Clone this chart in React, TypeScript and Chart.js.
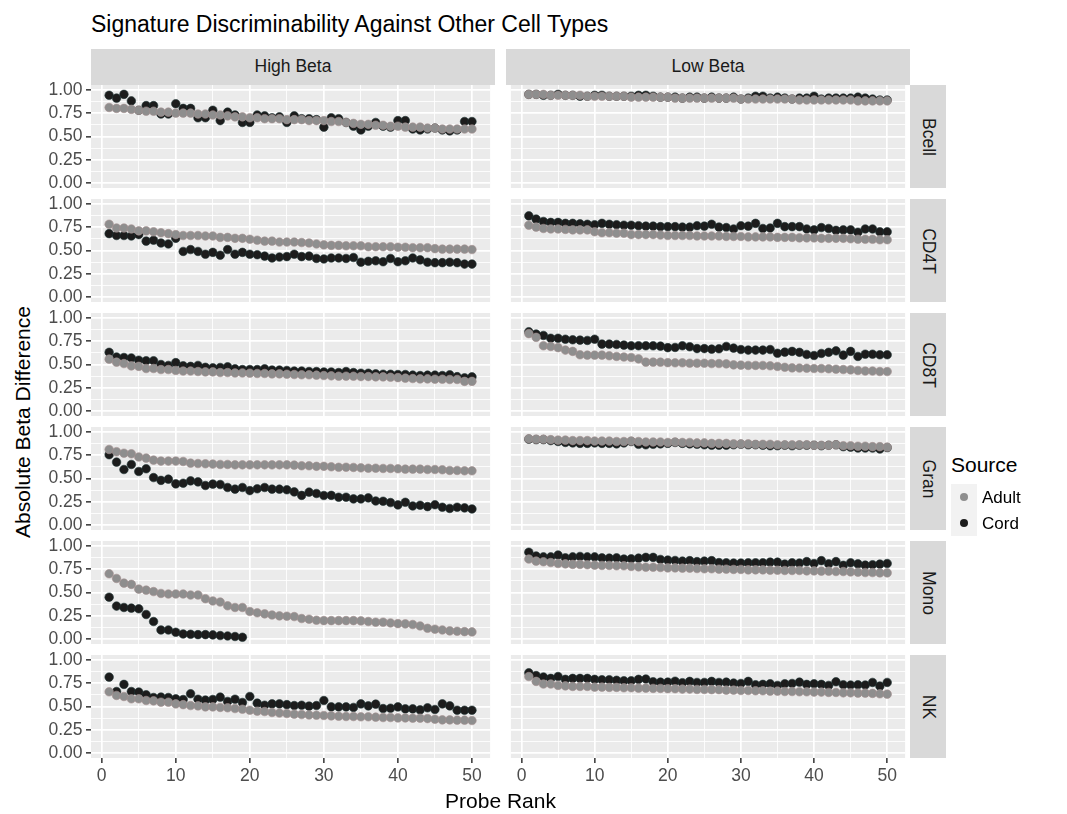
import React, { useEffect, useRef } from "react";
import { Chart, registerables } from "chart.js";

Chart.register(...registerables);

// ---------------- DATA ----------------
const ranks = [1, 2, 3, 4, 5, 6, 7, 8, 9, 10, 11, 12, 13, 14, 15, 16, 17, 18, 19, 20, 21, 22, 23, 24, 25, 26, 27, 28, 29, 30, 31, 32, 33, 34, 35, 36, 37, 38, 39, 40, 41, 42, 43, 44, 45, 46, 47, 48, 49, 50];
const cellTypes = ["Bcell", "CD4T", "CD8T", "Gran", "Mono", "NK"];
const betaGroups = ["High Beta", "Low Beta"];
const sources = ["Adult", "Cord"];
const xTickValues = [0, 5, 10, 15, 20, 25, 30, 35, 40, 45, 50];
const xMajorTicks = [0, 10, 20, 30, 40, 50];
const yTickValues = [0, 0.125, 0.25, 0.375, 0.5, 0.625, 0.75, 0.875, 1];
const yMajorTicks = [0, 0.25, 0.5, 0.75, 1];

const bcellHighAdult = [0.81, 0.80, 0.80, 0.79, 0.78, 0.77, 0.77, 0.76, 0.76, 0.75, 0.75, 0.75, 0.74, 0.74, 0.73, 0.73, 0.72, 0.71, 0.71, 0.70, 0.70, 0.69, 0.69, 0.69, 0.68, 0.68, 0.68, 0.67, 0.67, 0.67, 0.66, 0.66, 0.65, 0.64, 0.63, 0.63, 0.62, 0.62, 0.61, 0.61, 0.60, 0.60, 0.60, 0.59, 0.59, 0.58, 0.58, 0.58, 0.58, 0.58];
const bcellHighCord = [0.94, 0.91, 0.95, 0.88, 0.78, 0.83, 0.83, 0.74, 0.74, 0.85, 0.80, 0.80, 0.70, 0.70, 0.78, 0.67, 0.76, 0.73, 0.65, 0.65, 0.73, 0.72, 0.70, 0.71, 0.65, 0.72, 0.69, 0.69, 0.68, 0.60, 0.70, 0.69, 0.65, 0.61, 0.57, 0.61, 0.65, 0.61, 0.60, 0.67, 0.67, 0.58, 0.57, 0.58, 0.59, 0.57, 0.56, 0.57, 0.66, 0.66];
const bcellLowAdult = [0.95, 0.95, 0.95, 0.94, 0.94, 0.94, 0.94, 0.94, 0.93, 0.93, 0.93, 0.93, 0.93, 0.93, 0.92, 0.92, 0.92, 0.92, 0.92, 0.92, 0.91, 0.91, 0.91, 0.91, 0.91, 0.91, 0.91, 0.91, 0.91, 0.90, 0.90, 0.90, 0.90, 0.90, 0.90, 0.90, 0.90, 0.89, 0.89, 0.89, 0.89, 0.89, 0.89, 0.89, 0.89, 0.88, 0.88, 0.88, 0.88, 0.88];
const bcellLowCord = [0.95, 0.95, 0.94, 0.94, 0.95, 0.94, 0.94, 0.93, 0.93, 0.94, 0.94, 0.93, 0.93, 0.93, 0.93, 0.94, 0.94, 0.93, 0.92, 0.92, 0.92, 0.91, 0.92, 0.92, 0.91, 0.92, 0.91, 0.91, 0.92, 0.90, 0.91, 0.93, 0.93, 0.91, 0.92, 0.91, 0.90, 0.91, 0.91, 0.93, 0.90, 0.91, 0.91, 0.91, 0.91, 0.92, 0.91, 0.90, 0.89, 0.89];

const cd4tHighAdult = [0.78, 0.74, 0.74, 0.73, 0.71, 0.71, 0.70, 0.69, 0.68, 0.67, 0.66, 0.66, 0.66, 0.655, 0.655, 0.64, 0.64, 0.63, 0.63, 0.62, 0.61, 0.60, 0.60, 0.59, 0.59, 0.59, 0.585, 0.58, 0.57, 0.56, 0.555, 0.555, 0.55, 0.55, 0.55, 0.54, 0.54, 0.54, 0.54, 0.535, 0.535, 0.53, 0.53, 0.53, 0.52, 0.515, 0.515, 0.515, 0.515, 0.51];
const cd4tHighCord = [0.68, 0.66, 0.66, 0.655, 0.67, 0.60, 0.61, 0.58, 0.57, 0.63, 0.49, 0.51, 0.49, 0.46, 0.48, 0.45, 0.51, 0.46, 0.48, 0.46, 0.455, 0.44, 0.42, 0.43, 0.435, 0.46, 0.435, 0.44, 0.415, 0.41, 0.42, 0.42, 0.415, 0.425, 0.375, 0.385, 0.39, 0.38, 0.415, 0.38, 0.39, 0.42, 0.40, 0.375, 0.37, 0.37, 0.375, 0.37, 0.355, 0.355];
const cd4tLowAdult = [0.77, 0.75, 0.735, 0.73, 0.73, 0.725, 0.72, 0.72, 0.72, 0.70, 0.69, 0.69, 0.685, 0.685, 0.67, 0.67, 0.67, 0.67, 0.665, 0.66, 0.66, 0.66, 0.66, 0.655, 0.655, 0.655, 0.655, 0.65, 0.65, 0.65, 0.645, 0.645, 0.645, 0.645, 0.64, 0.64, 0.64, 0.635, 0.635, 0.635, 0.63, 0.63, 0.63, 0.63, 0.625, 0.62, 0.62, 0.62, 0.615, 0.615];
const cd4tLowCord = [0.87, 0.835, 0.81, 0.80, 0.80, 0.79, 0.79, 0.785, 0.78, 0.775, 0.79, 0.78, 0.775, 0.77, 0.77, 0.765, 0.76, 0.76, 0.755, 0.755, 0.755, 0.75, 0.75, 0.765, 0.76, 0.78, 0.75, 0.745, 0.73, 0.765, 0.76, 0.79, 0.735, 0.74, 0.79, 0.755, 0.755, 0.755, 0.73, 0.72, 0.745, 0.735, 0.715, 0.72, 0.72, 0.695, 0.73, 0.73, 0.70, 0.70];

const cd8tHighAdult = [0.557, 0.525, 0.51, 0.485, 0.48, 0.457, 0.457, 0.446, 0.446, 0.436, 0.43, 0.43, 0.425, 0.421, 0.421, 0.414, 0.414, 0.41, 0.41, 0.407, 0.404, 0.404, 0.40, 0.40, 0.396, 0.393, 0.39, 0.39, 0.386, 0.382, 0.379, 0.375, 0.375, 0.375, 0.371, 0.371, 0.368, 0.368, 0.364, 0.36, 0.354, 0.35, 0.346, 0.346, 0.343, 0.343, 0.34, 0.34, 0.32, 0.32];
const cd8tHighCord = [0.63, 0.58, 0.575, 0.57, 0.546, 0.54, 0.54, 0.50, 0.49, 0.52, 0.486, 0.48, 0.49, 0.47, 0.464, 0.468, 0.475, 0.454, 0.446, 0.446, 0.446, 0.454, 0.44, 0.44, 0.436, 0.43, 0.43, 0.425, 0.425, 0.42, 0.42, 0.414, 0.425, 0.414, 0.407, 0.407, 0.40, 0.396, 0.396, 0.393, 0.393, 0.386, 0.382, 0.386, 0.386, 0.382, 0.39, 0.37, 0.357, 0.368];
const cd8tLowAdult = [0.83, 0.79, 0.70, 0.693, 0.68, 0.654, 0.64, 0.604, 0.60, 0.60, 0.60, 0.593, 0.586, 0.58, 0.575, 0.56, 0.525, 0.525, 0.525, 0.52, 0.518, 0.518, 0.514, 0.514, 0.514, 0.51, 0.51, 0.507, 0.496, 0.493, 0.49, 0.49, 0.49, 0.486, 0.479, 0.47, 0.464, 0.462, 0.46, 0.457, 0.457, 0.454, 0.45, 0.446, 0.443, 0.436, 0.43, 0.43, 0.425, 0.425];
const cd8tLowCord = [0.85, 0.825, 0.81, 0.78, 0.78, 0.77, 0.764, 0.76, 0.757, 0.77, 0.718, 0.718, 0.714, 0.707, 0.70, 0.70, 0.70, 0.70, 0.696, 0.68, 0.682, 0.70, 0.69, 0.67, 0.67, 0.664, 0.668, 0.693, 0.675, 0.66, 0.654, 0.654, 0.654, 0.66, 0.62, 0.632, 0.64, 0.63, 0.607, 0.596, 0.618, 0.63, 0.646, 0.60, 0.64, 0.586, 0.61, 0.61, 0.604, 0.604];

const granHighAdult = [0.81, 0.786, 0.77, 0.764, 0.73, 0.718, 0.696, 0.686, 0.686, 0.686, 0.682, 0.664, 0.66, 0.657, 0.654, 0.65, 0.65, 0.646, 0.646, 0.646, 0.646, 0.646, 0.646, 0.646, 0.646, 0.643, 0.636, 0.636, 0.63, 0.63, 0.625, 0.62, 0.62, 0.618, 0.614, 0.61, 0.61, 0.607, 0.607, 0.604, 0.60, 0.60, 0.60, 0.596, 0.596, 0.593, 0.586, 0.586, 0.582, 0.582];
const granHighCord = [0.754, 0.675, 0.596, 0.65, 0.575, 0.604, 0.51, 0.48, 0.493, 0.443, 0.45, 0.475, 0.464, 0.425, 0.44, 0.436, 0.404, 0.386, 0.404, 0.371, 0.39, 0.404, 0.386, 0.386, 0.38, 0.357, 0.32, 0.354, 0.34, 0.318, 0.32, 0.30, 0.30, 0.282, 0.282, 0.293, 0.26, 0.257, 0.243, 0.218, 0.246, 0.207, 0.214, 0.20, 0.22, 0.193, 0.18, 0.193, 0.186, 0.175];
const granLowAdult = [0.925, 0.92, 0.92, 0.915, 0.91, 0.91, 0.905, 0.905, 0.905, 0.90, 0.90, 0.90, 0.895, 0.895, 0.90, 0.895, 0.89, 0.89, 0.89, 0.885, 0.89, 0.885, 0.885, 0.88, 0.88, 0.875, 0.875, 0.875, 0.87, 0.87, 0.87, 0.865, 0.865, 0.865, 0.86, 0.86, 0.86, 0.86, 0.86, 0.855, 0.855, 0.855, 0.86, 0.85, 0.85, 0.845, 0.845, 0.84, 0.84, 0.835];
const granLowCord = [0.92, 0.915, 0.915, 0.905, 0.895, 0.885, 0.88, 0.875, 0.875, 0.88, 0.875, 0.875, 0.87, 0.88, 0.895, 0.865, 0.86, 0.865, 0.87, 0.875, 0.885, 0.875, 0.87, 0.865, 0.86, 0.855, 0.855, 0.855, 0.86, 0.865, 0.86, 0.86, 0.855, 0.85, 0.85, 0.855, 0.85, 0.855, 0.855, 0.855, 0.85, 0.855, 0.86, 0.84, 0.835, 0.825, 0.825, 0.825, 0.815, 0.83];

const monoHighAdult = [0.70, 0.65, 0.60, 0.587, 0.536, 0.525, 0.51, 0.49, 0.484, 0.484, 0.484, 0.473, 0.473, 0.434, 0.41, 0.398, 0.358, 0.34, 0.34, 0.297, 0.283, 0.272, 0.26, 0.25, 0.247, 0.243, 0.222, 0.215, 0.204, 0.20, 0.20, 0.20, 0.20, 0.20, 0.197, 0.19, 0.183, 0.183, 0.175, 0.168, 0.165, 0.158, 0.143, 0.118, 0.108, 0.10, 0.09, 0.086, 0.082, 0.079];
const monoHighCord = [0.45, 0.355, 0.34, 0.333, 0.326, 0.265, 0.19, 0.10, 0.10, 0.075, 0.057, 0.054, 0.05, 0.05, 0.047, 0.04, 0.036, 0.03, 0.022, null, null, null, null, null, null, null, null, null, null, null, null, null, null, null, null, null, null, null, null, null, null, null, null, null, null, null, null, null, null, null];
const monoLowAdult = [0.857, 0.835, 0.828, 0.82, 0.81, 0.806, 0.80, 0.80, 0.796, 0.792, 0.789, 0.789, 0.785, 0.785, 0.778, 0.774, 0.77, 0.77, 0.767, 0.763, 0.763, 0.76, 0.76, 0.756, 0.753, 0.753, 0.749, 0.749, 0.746, 0.746, 0.742, 0.742, 0.742, 0.738, 0.738, 0.735, 0.735, 0.735, 0.731, 0.731, 0.728, 0.728, 0.724, 0.724, 0.72, 0.717, 0.713, 0.713, 0.71, 0.71];
const monoLowCord = [0.93, 0.89, 0.88, 0.88, 0.90, 0.87, 0.88, 0.885, 0.88, 0.88, 0.87, 0.867, 0.87, 0.857, 0.86, 0.867, 0.875, 0.875, 0.853, 0.846, 0.842, 0.835, 0.84, 0.83, 0.835, 0.84, 0.82, 0.817, 0.814, 0.814, 0.817, 0.817, 0.817, 0.824, 0.824, 0.803, 0.817, 0.814, 0.83, 0.81, 0.84, 0.806, 0.83, 0.79, 0.817, 0.806, 0.792, 0.796, 0.803, 0.81];

const nkHighAdult = [0.657, 0.618, 0.607, 0.582, 0.582, 0.564, 0.56, 0.546, 0.546, 0.528, 0.52, 0.51, 0.507, 0.496, 0.496, 0.49, 0.486, 0.478, 0.471, 0.46, 0.45, 0.446, 0.436, 0.43, 0.425, 0.418, 0.414, 0.41, 0.407, 0.404, 0.40, 0.396, 0.393, 0.393, 0.39, 0.39, 0.386, 0.382, 0.382, 0.378, 0.378, 0.375, 0.375, 0.371, 0.364, 0.357, 0.357, 0.354, 0.354, 0.35];
const nkHighCord = [0.814, 0.66, 0.736, 0.66, 0.654, 0.625, 0.596, 0.60, 0.596, 0.582, 0.575, 0.636, 0.578, 0.568, 0.575, 0.60, 0.554, 0.578, 0.543, 0.607, 0.536, 0.514, 0.528, 0.528, 0.52, 0.51, 0.514, 0.504, 0.51, 0.564, 0.496, 0.496, 0.496, 0.49, 0.528, 0.507, 0.525, 0.478, 0.482, 0.496, 0.475, 0.475, 0.464, 0.486, 0.468, 0.528, 0.507, 0.46, 0.46, 0.46];
const nkLowAdult = [0.82, 0.768, 0.74, 0.74, 0.725, 0.72, 0.714, 0.714, 0.714, 0.707, 0.707, 0.704, 0.704, 0.70, 0.70, 0.696, 0.696, 0.693, 0.693, 0.69, 0.69, 0.686, 0.686, 0.682, 0.682, 0.68, 0.68, 0.675, 0.675, 0.671, 0.671, 0.668, 0.668, 0.664, 0.664, 0.66, 0.66, 0.657, 0.657, 0.654, 0.654, 0.65, 0.65, 0.646, 0.646, 0.643, 0.643, 0.64, 0.636, 0.632];
const nkLowCord = [0.86, 0.83, 0.815, 0.80, 0.82, 0.79, 0.80, 0.80, 0.80, 0.79, 0.786, 0.786, 0.78, 0.775, 0.775, 0.79, 0.793, 0.764, 0.76, 0.76, 0.77, 0.754, 0.768, 0.757, 0.757, 0.768, 0.757, 0.76, 0.75, 0.746, 0.768, 0.732, 0.736, 0.743, 0.725, 0.743, 0.746, 0.76, 0.736, 0.743, 0.736, 0.725, 0.764, 0.732, 0.729, 0.732, 0.729, 0.757, 0.718, 0.757];

// rows follow cellTypes order, columns follow betaGroups order
const panelAdult = [
  [bcellHighAdult, bcellLowAdult],
  [cd4tHighAdult, cd4tLowAdult],
  [cd8tHighAdult, cd8tLowAdult],
  [granHighAdult, granLowAdult],
  [monoHighAdult, monoLowAdult],
  [nkHighAdult, nkLowAdult],
];
const panelCord = [
  [bcellHighCord, bcellLowCord],
  [cd4tHighCord, cd4tLowCord],
  [cd8tHighCord, cd8tLowCord],
  [granHighCord, granLowCord],
  [monoHighCord, monoLowCord],
  [nkHighCord, nkLowCord],
];

// ---------------- LAYOUT / STYLE ----------------
const FONT = "'Liberation Sans', Arial, Helvetica, sans-serif";
const COL_LEFT = [91, 506];
const ROW_TOP = [85, 199, 313, 427, 541, 655];
const PANEL_W = 404;
const PANEL_H = 103;
const STRIP = 36;
const PAD = 12;
const Y_AXIS_W = 52;
const X_AXIS_H = 36;
const TICK_FONT = 17.5;
const STRIP_FONT = 17.5;
const AXIS_TITLE_FONT = 21;
const ADULT_COLOR = "#8E8E8E";
const CORD_COLOR = "#1C1C1C";

const isMajor = (v: number, list: number[]) => list.some((m) => Math.abs(m - v) < 1e-9);

const panelBg = {
  id: "panelBg",
  beforeDraw(chart: any) {
    const { ctx, chartArea: a } = chart;
    ctx.save();
    ctx.fillStyle = "#EBEBEB";
    ctx.fillRect(a.left, a.top, a.right - a.left, a.bottom - a.top);
    ctx.restore();
  },
};

function toPoints(values: (number | null)[]) {
  const pts: { x: number; y: number }[] = [];
  values.forEach((v, i) => {
    if (v !== null && v !== undefined) pts.push({ x: ranks[i], y: v });
  });
  return pts;
}

function Panel(props: { row: number; col: number }) {
  const { row, col } = props;
  const ref = useRef<HTMLCanvasElement>(null);
  const showY = col === 0;
  const showX = row === cellTypes.length - 1;
  const width = (showY ? Y_AXIS_W : 0) + PANEL_W;
  const height = PAD + PANEL_H + (showX ? X_AXIS_H : PAD);

  useEffect(() => {
    const tickFont = { family: FONT, size: TICK_FONT };
    const chart = new Chart(ref.current as HTMLCanvasElement, {
      type: "scatter",
      data: {
        datasets: [
          {
            label: sources[0],
            data: toPoints(panelAdult[row][col]),
            backgroundColor: ADULT_COLOR,
            borderColor: "#A48F8F",
            borderWidth: 0.6,
            pointRadius: 4.3,
            pointHoverRadius: 4.3,
          },
          {
            label: sources[1],
            data: toPoints(panelCord[row][col]),
            backgroundColor: CORD_COLOR,
            borderColor: "#1E3434",
            borderWidth: 0.6,
            pointRadius: 4.3,
            pointHoverRadius: 4.3,
          },
        ],
      },
      options: {
        animation: false,
        responsive: false,
        events: [],
        layout: { padding: { top: PAD, bottom: showX ? 0 : PAD, left: 0, right: 0 } },
        plugins: { legend: { display: false }, tooltip: { enabled: false } },
        scales: {
          x: {
            type: "linear",
            min: -1.45,
            max: 52.45,
            afterBuildTicks: (s: any) => {
              s.ticks = xTickValues.map((v) => ({ value: v }));
            },
            afterFit: (s: any) => {
              s.height = showX ? X_AXIS_H : 0;
              s.paddingLeft = 0;
              s.paddingRight = 0;
            },
            border: { display: false },
            grid: {
              color: "#FFFFFF",
              lineWidth: (c: any) => (c.tick && isMajor(c.tick.value, xMajorTicks) ? 1.7 : 0.85),
              drawTicks: showX,
              tickLength: 5,
              tickWidth: 1.5,
              tickColor: (c: any) => (c.tick && isMajor(c.tick.value, xMajorTicks) ? "#333333" : "rgba(0,0,0,0)"),
            },
            ticks: {
              display: showX,
              autoSkip: false,
              maxRotation: 0,
              minRotation: 0,
              padding: 3,
              color: "#4D4D4D",
              font: tickFont,
              callback: (v: any) => (isMajor(Number(v), xMajorTicks) ? String(v) : ""),
            },
          },
          y: {
            type: "linear",
            min: -0.05,
            max: 1.05,
            afterBuildTicks: (s: any) => {
              s.ticks = yTickValues.map((v) => ({ value: v }));
            },
            afterFit: (s: any) => {
              s.width = showY ? Y_AXIS_W : 0;
              s.paddingTop = 0;
              s.paddingBottom = 0;
            },
            border: { display: false },
            grid: {
              color: "#FFFFFF",
              lineWidth: (c: any) => (c.tick && isMajor(c.tick.value, yMajorTicks) ? 1.7 : 0.85),
              drawTicks: showY,
              tickLength: 5,
              tickWidth: 1.5,
              tickColor: (c: any) => (c.tick && isMajor(c.tick.value, yMajorTicks) ? "#333333" : "rgba(0,0,0,0)"),
            },
            ticks: {
              display: showY,
              autoSkip: false,
              padding: 3.5,
              color: "#4D4D4D",
              font: tickFont,
              callback: (v: any) => (isMajor(Number(v), yMajorTicks) ? Number(v).toFixed(2) : ""),
            },
          },
        },
      },
      plugins: [panelBg],
    } as any);
    return () => chart.destroy();
  }, [row, col]);

  return (
    <div
      style={{
        position: "absolute",
        left: COL_LEFT[col] - (showY ? Y_AXIS_W : 0),
        top: ROW_TOP[row] - PAD,
        width,
        height,
      }}
    >
      <canvas ref={ref} width={width} height={height} style={{ display: "block", width, height }} />
    </div>
  );
}

function CenteredText(props: { x: number; y: number; size: number; color?: string; rotate?: number; children: React.ReactNode }) {
  const { x, y, size, color, rotate, children } = props;
  return (
    <div
      style={{
        position: "absolute",
        left: x,
        top: y,
        transform: `translate(-50%, -50%) rotate(${rotate || 0}deg)`,
        fontSize: size,
        lineHeight: 1,
        whiteSpace: "nowrap",
        color: color || "#000000",
        fontFamily: FONT,
      }}
    >
      {children}
    </div>
  );
}

export default function App() {
  const panels: React.ReactNode[] = [];
  cellTypes.forEach((_, r) => {
    betaGroups.forEach((__, c) => {
      panels.push(<Panel key={`${r}-${c}`} row={r} col={c} />);
    });
  });

  return (
    <div
      style={{
        position: "absolute",
        left: 0,
        top: 0,
        width: 1067,
        height: 814,
        background: "#FFFFFF",
        fontFamily: FONT,
        overflow: "hidden",
      }}
    >
      {/* Title */}
      <div
        style={{
          position: "absolute",
          left: 91,
          top: 13,
          fontSize: 23,
          lineHeight: "23px",
          whiteSpace: "nowrap",
          color: "#000000",
        }}
      >
        Signature Discriminability Against Other Cell Types
      </div>

      {/* Column strips */}
      {betaGroups.map((g, c) => (
        <div
          key={g}
          style={{
            position: "absolute",
            left: COL_LEFT[c],
            top: ROW_TOP[0] - STRIP,
            width: PANEL_W,
            height: STRIP,
            background: "#D9D9D9",
          }}
        >
          <CenteredText x={PANEL_W / 2} y={STRIP / 2} size={STRIP_FONT} color="#1A1A1A">
            {g}
          </CenteredText>
        </div>
      ))}

      {/* Row strips */}
      {cellTypes.map((t, r) => (
        <div
          key={t}
          style={{
            position: "absolute",
            left: COL_LEFT[1] + PANEL_W,
            top: ROW_TOP[r],
            width: STRIP,
            height: PANEL_H,
            background: "#D9D9D9",
          }}
        >
          <CenteredText x={STRIP / 2} y={PANEL_H / 2} size={STRIP_FONT} color="#1A1A1A" rotate={90}>
            {t}
          </CenteredText>
        </div>
      ))}

      {panels}

      {/* Axis titles */}
      <CenteredText x={500.5} y={800} size={AXIS_TITLE_FONT}>
        Probe Rank
      </CenteredText>
      <CenteredText x={22} y={421.5} size={AXIS_TITLE_FONT} rotate={-90}>
        Absolute Beta Difference
      </CenteredText>

      {/* Legend */}
      <div style={{ position: "absolute", left: 951, top: 454, fontSize: 21, lineHeight: "21px", whiteSpace: "nowrap" }}>
        Source
      </div>
      {sources.map((s, i) => (
        <React.Fragment key={s}>
          <div
            style={{
              position: "absolute",
              left: 951,
              top: 484 + i * 26,
              width: 26,
              height: 26,
              background: "#F2F2F2",
            }}
          >
            <div
              style={{
                position: "absolute",
                left: 13 - 4.3,
                top: 13 - 4.3,
                width: 8.6,
                height: 8.6,
                borderRadius: "50%",
                background: i === 0 ? ADULT_COLOR : CORD_COLOR,
              }}
            />
          </div>
          <div
            style={{
              position: "absolute",
              left: 982,
              top: 497 + i * 26,
              transform: "translateY(-50%)",
              fontSize: 17,
              lineHeight: 1,
              whiteSpace: "nowrap",
            }}
          >
            {s}
          </div>
        </React.Fragment>
      ))}
    </div>
  );
}
